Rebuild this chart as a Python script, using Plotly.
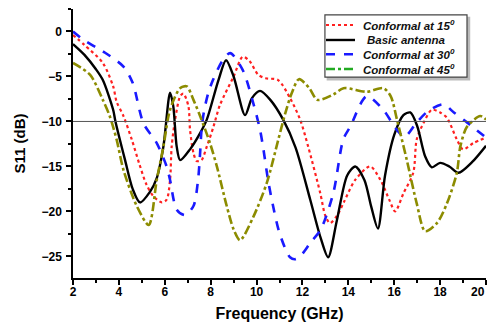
import plotly.graph_objects as go

# Basic antenna
f_basic = [2.0, 2.5, 3.0, 3.3, 3.75, 3.85, 4.27, 4.6, 4.92, 5.36, 5.65, 5.94, 6.23, 6.37, 6.52, 6.67,
           7.1, 7.54, 7.83, 8.34, 8.67, 9.0, 9.5, 9.8, 10.15, 10.6, 11.16, 11.7, 12.34, 12.8, 13.12,
           13.5, 13.95, 14.3, 14.7, 15.0, 15.29, 15.6, 16.0, 16.4, 16.7, 17.0, 17.35, 17.64, 18.0,
           18.4, 18.8, 19.4, 20.0]
s_basic = [-1.4, -2.6, -4.2, -5.4, -8.7, -10.0, -14.3, -17.5, -19.0, -17.8, -16.3, -12.8, -6.8, -8.3, -12.8, -14.3,
           -13.1, -11.3, -9.8, -5.4, -3.2, -5.0, -9.3, -7.4, -6.6, -7.6, -9.8, -12.9, -18.7, -23.0, -25.1,
           -21.0, -16.0, -15.0, -16.5, -19.5, -21.9, -16.0, -11.5, -9.3, -9.0, -10.5, -13.9, -15.1, -14.6,
           -15.0, -15.7, -14.5, -12.7]

# Conformal at 15 deg
f_c15 = [2.0, 2.5, 3.3, 3.75, 3.9, 4.2, 4.56, 4.9, 5.2, 5.5, 5.87, 6.08, 6.23, 6.3, 6.45, 6.67, 6.81,
         7.03, 7.1, 7.25, 7.39, 7.6, 7.83, 8.12, 8.4, 9.0, 9.4, 9.7, 10.07, 10.4, 10.94, 11.46, 11.9,
         12.25, 12.77, 13.0, 13.2, 13.5, 13.8, 14.3, 14.95, 15.4, 15.8, 16.04, 16.4, 16.83, 16.98,
         17.27, 17.64, 18.0, 18.3, 18.73, 19.0, 19.45, 20.0]
s_c15 = [-0.4, -1.5, -3.5, -6.1, -7.8, -9.4, -12.0, -14.8, -17.0, -18.3, -19.0, -18.7, -16.5, -12.8, -9.8, -7.2, -6.9,
         -8.3, -10.9, -13.5, -14.4, -14.3, -12.8, -10.6, -8.2, -5.0, -2.8, -3.3, -4.8, -5.2, -5.4, -7.4, -9.8,
         -12.8, -17.9, -20.5, -21.3, -20.5, -19.0, -16.5, -15.0, -16.5, -18.8, -20.0, -18.0, -15.7, -12.0,
         -10.2, -8.7, -9.0, -9.6, -12.0, -13.1, -12.4, -11.8]

# Conformal at 30 deg
f_c30 = [2.0, 2.5, 3.3, 4.2, 4.6, 5.07, 5.65, 6.08, 6.23, 6.52, 6.88, 7.25, 7.45, 7.54, 7.6, 7.7, 7.9,
         8.1, 8.5, 8.85, 9.4, 9.85, 10.15, 10.3, 10.5, 10.72, 11.0, 11.46, 11.7, 12.0, 12.34, 12.8,
         13.35, 13.78, 14.08, 14.8, 15.52, 16.1, 16.45, 16.98, 17.5, 18.14, 18.6, 19.17, 20.0]
s_c30 = [0.0, -1.0, -2.2, -3.9, -5.7, -10.2, -12.4, -15.0, -16.5, -19.8, -20.4, -19.4, -16.5, -13.5, -11.0, -9.0, -6.8,
         -5.4, -3.3, -2.4, -4.3, -7.9, -10.9, -13.1, -16.5, -19.4, -22.4, -25.1, -25.3, -24.7, -23.5, -22.0,
         -17.9, -12.0, -10.6, -7.2, -8.7, -10.9, -11.7, -10.1, -8.8, -8.1, -9.0, -10.1, -11.8]

# Conformal at 45 deg
f_c45 = [2.0, 2.74, 3.3, 3.6, 3.9, 4.2, 4.78, 5.3, 5.65, 5.94, 6.23, 6.67, 6.96, 7.25, 7.54, 7.97,
         8.27, 8.7, 9.0, 9.28, 9.86, 10.45, 10.95, 11.25, 11.54, 11.85, 12.3, 12.65, 13.35, 13.79,
         14.8, 15.53, 15.85, 16.12, 16.55, 16.98, 17.35, 17.86, 18.3, 18.73, 18.88, 19.17, 19.75, 20.0]
s_c45 = [-3.5, -4.8, -7.6, -9.4, -12.0, -15.4, -19.4, -21.5, -16.5, -12.8, -8.7, -6.3, -6.1, -7.6, -9.4, -12.4,
         -15.0, -19.4, -22.0, -23.2, -20.6, -16.8, -12.0, -9.1, -6.8, -5.3, -6.3, -7.6, -7.0, -6.3,
         -6.7, -6.3, -7.2, -9.8, -14.3, -19.1, -22.2, -21.3, -19.1, -15.7, -12.8, -10.6, -9.4, -9.8]

# Tick labels
x_tickvals = [2, 4, 6, 8, 10, 12, 14, 16, 18, 20]
x_ticktext = ["2", "4", "6", "8", "10", "12", "14", "16", "18", "20\u00a0\u00a0\u00a0\u00a0\u00a0"]
y_tickvals = [0, -5, -10, -15, -20, -25]

names = ["Conformal at 15<sup>0</sup>", "Basic antenna", "Conformal at 30<sup>0</sup>", "Conformal at 45<sup>0</sup>"]
line_colors = ["#ff2020", "#000000", "#1a1aff", "#8c8c00"]
legend_colors = ["#ff2020", "#000000", "#1a1aff", "#22aa22"]
dashes = ["dot", "solid", "dash", "dashdot"]
widths = [2.2, 2.4, 2.6, 2.6]

series = [(f_c15, s_c15), (f_basic, s_basic), (f_c30, s_c30), (f_c45, s_c45)]

fig = go.Figure()
for (fx, sy), nm, col, dsh, w in zip(series, names, line_colors, dashes, widths):
    fig.add_trace(go.Scatter(x=fx, y=sy, mode="lines", name=nm, showlegend=False,
                             line=dict(color=col, dash=dsh, width=w, shape="spline", smoothing=0.8)))

fig.add_hline(y=-10, line=dict(color="#555555", width=1))

# Legend box (drawn in paper coordinates)
bx0, bx1, by0, by1 = 0.610, 0.954, 0.747, 0.978
fig.add_shape(type="rect", xref="paper", yref="paper", x0=bx0 + 0.006, x1=bx1 + 0.006,
              y0=by0 - 0.01, y1=by1 - 0.01, line=dict(color="#bbbbbb", width=1.5), fillcolor="#bbbbbb")
fig.add_shape(type="rect", xref="paper", yref="paper", x0=bx0, x1=bx1, y0=by0, y1=by1,
              line=dict(color="#444444", width=1.2), fillcolor="white")
entry_y = [0.9405, 0.8848, 0.8316, 0.7770]
text_x = [0.6966, 0.707, 0.6966, 0.6966]
for nm, col, dsh, w, ey, tx in zip(names, legend_colors, dashes, widths, entry_y, text_x):
    fig.add_shape(type="line", xref="paper", yref="paper", x0=0.6126, x1=0.6828, y0=ey, y1=ey,
                  line=dict(color=col, dash=dsh, width=w))
    fig.add_annotation(xref="paper", yref="paper", x=tx, y=ey, xanchor="left", yanchor="middle",
                       text=nm, showarrow=False,
                       font=dict(size=11.5, family="Arial, Liberation Sans, sans-serif", color="#111111",
                                 weight="bold", style="italic"))

fig.update_layout(
    width=487, height=317,
    margin=dict(l=65, r=9, t=1, b=47),
    plot_bgcolor="white", paper_bgcolor="white",
    font=dict(family="Arial, Liberation Sans, sans-serif", color="black"),
    showlegend=False,
    xaxis=dict(range=[2, 20], tickvals=x_tickvals, ticktext=x_ticktext, automargin="left",
               ticks="outside", ticklen=5, tickwidth=1.5, tickcolor="black", ticklabelstandoff=-3,
               ticklabeloverflow="allow",
               showline=True, linecolor="black", linewidth=1.5, showgrid=False, zeroline=False,
               minor=dict(ticks="outside", ticklen=3, tickcolor="black", dtick=1, showgrid=False),
               tickfont=dict(size=12, weight="bold"),
               title=dict(text="Frequency (GHz)", font=dict(size=16, weight="bold"), standoff=10)),
    yaxis=dict(range=[-27.4, 2.5], tickvals=y_tickvals,
               ticks="outside", ticklen=5, tickwidth=1.5, tickcolor="black", ticklabelstandoff=2,
               showline=True, linecolor="black", linewidth=1.5, showgrid=False, zeroline=False,
               minor=dict(ticks="outside", ticklen=3, tickcolor="black", dtick=2.5, showgrid=False),
               tickfont=dict(size=12, weight="bold"),
               title=dict(text="S11 (dB)", font=dict(size=15, weight="bold"), standoff=12)),
)

fig.write_html("out.html")
